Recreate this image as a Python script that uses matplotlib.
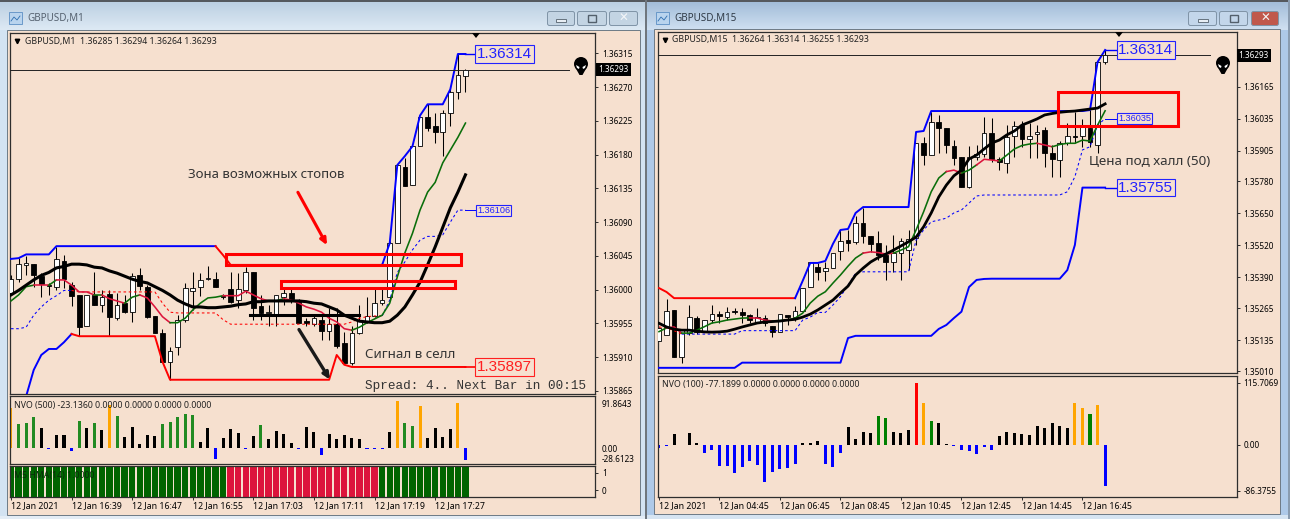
# -*- coding: utf-8 -*-
"""
Two MT4 chart windows of GBPUSD side by side (M1 and M15) with the
band, hull and NVO indicators plus hand drawn marks on top.
Prices are kept in points (1e-5) and scaled when drawn.
"""
import numpy as np
import matplotlib
matplotlib.use('Agg')
import matplotlib.pyplot as plt
from matplotlib.patches import Rectangle, Ellipse, Polygon, FancyBboxPatch

W, H = 1290, 519
TAN = '#f6e0cf'
FRAME = '#2e2e2e'
GREEN = '#0a6e0a'
BARGREEN = '#228b22'
CRIMSON = '#dc143c'
ORANGE = '#ffa500'

# ---- M1 window ----
m1_open = [135996, 136014, 136033, 136034, 136018, 136006, 136004, 136038, 136006, 135993,
           135952, 135993, 135980, 135994, 135962, 135982, 135970, 136019, 136004, 135965,
           135942, 135904, 135924, 135960, 135998, 136004, 136014, 136014, 135992, 136001,
           135986, 135999, 136023, 135978, 135969, 135966, 135990, 135996, 135984, 135958,
           135954, 135960, 135945, 135954, 135929, 135902, 135942, 135957, 135965, 135982,
           135990, 136062, 136163, 136139, 136191, 136230, 136218, 136210, 136235, 136263,
           136285]
m1_high = [136019, 136042, 136045, 136034, 136022, 136009, 136057, 136046, 136010, 135993,
           135993, 136023, 135999, 135999, 135996, 135993, 136022, 136029, 136006, 135965,
           135948, 135924, 135966, 136009, 136023, 136022, 136031, 136023, 135994, 136023,
           136022, 136030, 136023, 135993, 135980, 135993, 136002, 136001, 135988, 135962,
           135965, 135965, 135976, 135976, 135944, 135952, 135980, 135990, 136001, 136001,
           136065, 136166, 136176, 136191, 136230, 136247, 136236, 136239, 136267, 136315,
           136294]
m1_low = [135993, 136010, 136019, 136004, 135990, 135993, 135999, 136002, 135978, 135938,
          135952, 135980, 135970, 135938, 135960, 135969, 135957, 135999, 135962, 135942,
          135904, 135880, 135913, 135957, 135973, 135992, 136013, 136004, 135988, 135982,
          135976, 135996, 135960, 135960, 135952, 135952, 135980, 135982, 135956, 135952,
          135952, 135933, 135933, 135922, 135901, 135900, 135941, 135956, 135964, 135980,
          135986, 136062, 136138, 136139, 136191, 136211, 136195, 136178, 136218, 136254,
          136264]
m1_close = [136014, 136034, 136035, 136019, 136007, 136005, 136041, 136014, 135992, 135950,
            135993, 135980, 135990, 135964, 135980, 135970, 136018, 136005, 135964, 135942,
            135904, 135918, 135960, 136002, 136002, 136013, 136014, 136004, 135990, 135984,
            136001, 136023, 135976, 135969, 135969, 135993, 135996, 135988, 135956, 135956,
            135962, 135945, 135954, 135925, 135902, 135942, 135960, 135965, 135982, 135986,
            136062, 136166, 136138, 136191, 136230, 136216, 136210, 136236, 136264, 136286,
            136293]
m1_upper = [136041, 136042, 136047, 136047, 136047, 136047, 136058, 136058, 136058, 136058,
            136058, 136058, 136058, 136058, 136058, 136058, 136058, 136058, 136058, 136058,
            136058, 136058, 136058, 136058, 136058, 136058, 136058, 136058, 136046, 136033,
            136033, 136033, 136033, 136033, 136033, 136033, 136033, 136033, 136033, 136033,
            136033, 136033, 136033, 136033, 136033, 136033, 136033, 136033, 136033, 136033,
            136062, 136166, 136178, 136191, 136232, 136247, 136247, 136247, 136267, 136314,
            136314]
m1_upper_runs = [(0, 'blue'), (27, 'red'), (49, 'blue')]
m1_lower = [np.nan, np.nan, 135858, 135893, 135913, 135921, 135921, 135930, 135941, 135938,
            135938, 135938, 135938, 135938, 135938, 135938, 135938, 135938, 135938, 135938,
            135904, 135880, 135880, 135880, 135880, 135880, 135880, 135880, 135880, 135880,
            135880, 135880, 135880, 135880, 135880, 135880, 135880, 135880, 135880, 135880,
            135880, 135880, 135880, 135913, 135900, 135897, 135897, 135897, 135897, 135897,
            135897, 135897, 135897, 135897, 135897, 135897, 135897, 135897, 135897, 135897,
            135897]
m1_lower_runs = [(0, 'blue'), (8, 'red')]
m1_hull_slow = [135993, 135999, 136006, 136013, 136019, 136023, 136029, 136031, 136034, 136034,
                136033, 136030, 136029, 136025, 136022, 136018, 136014, 136011, 136009, 136004,
                135999, 135993, 135986, 135981, 135977, 135977, 135976, 135976, 135977, 135978,
                135980, 135981, 135984, 135984, 135985, 135985, 135985, 135985, 135985, 135984,
                135982, 135981, 135977, 135973, 135966, 135962, 135958, 135957, 135956, 135956,
                135958, 135966, 135977, 135993, 136010, 136033, 136057, 136083, 136109, 136130,
                136153]
m1_hull_fast = [135985, 135993, 136004, 136006, 136006, 136006, 136013, 136013, 136006, 135997,
                135997, 135993, 135993, 135988, 135985, 135982, 135990, 135993, 135989, 135977,
                135964, 135956, 135956, 135962, 135973, 135982, 135989, 135990, 135992, 135992,
                135992, 135998, 135993, 135988, 135985, 135985, 135988, 135986, 135982, 135977,
                135974, 135970, 135962, 135957, 135948, 135946, 135950, 135956, 135961, 135966,
                135982, 136017, 136049, 136075, 136106, 136130, 136143, 136169, 136186, 136203,
                136222]
m1_fast_runs = [(0, GREEN), (3, CRIMSON), (5, GREEN), (6, CRIMSON), (11, GREEN), (12, CRIMSON),
                (15, GREEN), (17, CRIMSON), (21, GREEN), (28, CRIMSON), (34, GREEN),
                (36, CRIMSON), (45, GREEN)]
m1_dash = [135948, 135948, 135950, 135966, 135977, 135986, 135992, 135999, 135999, 135997,
           135997, 135997, 135997, 135997, 135997, 135997, 135997, 135997, 135997, 135997,
           135982, 135970, 135969, 135969, 135969, 135969, 135969, 135969, 135960, 135954,
           135954, 135954, 135954, 135954, 135954, 135954, 135954, 135954, 135954, 135954,
           135954, 135954, 135954, 135954, 135954, 135957, 135962, 135964, 135965, 135965,
           135986, 136023, 136037, 136053, 136066, 136071, 136071, 136073, 136090, 136106,
           136106]
m1_dash_runs = [(0, 'blue'), (8, 'red'), (49, 'blue')]
m1_nvo = [78.4, 46, 48, 61, 38.5, -2, 25.7, 25.7, -4.5, 53, 38.5, 48, 35, 83.5, 62, 22.5, 40.5,
          8.3, 25.7, 24.4, 46, 50, 61, 66, 64, 11.6, 38.5, -21, 19, 36.6, 30, -2, 24.4, 44, 17,
          33, 28, 10, -2, 40.5, 32, -13, 27.6, 17, 25.7, 20.5, 17, -2, -1, -0.8, 31.5, 91.2,
          49.5, 43, 81.6, 20.5, 38.5, 21, 37, 88, -23.136]
m1_nvo_colors = ['o', 'g', 'g', 'g', 'k', 'b', 'k', 'k', 'b', 'g', 'k', 'g', 'k', 'o', 'g', 'k', 'k',
                 'k', 'k', 'k', 'g', 'g', 'g', 'g', 'g', 'k', 'k', 'b', 'k', 'k', 'k', 'b', 'k', 'g', 'k',
                 'k', 'k', 'k', 'b', 'k', 'k', 'b', 'k', 'k', 'k', 'k', 'k', 'b', 'b', 'b', 'k', 'o',
                 'g', 'g', 'o', 'k', 'k', 'k', 'k', 'o', 'b']
m1_mtf_state = [1] * 29 + [0] * 20 + [1] * 12
m1_price_ticks = [136315, 136270, 136225, 136180, 136135, 136090, 136045, 136000, 135955, 135910, 135865]
m1_time_labels = ['12 Jan 2021', '12 Jan 16:39', '12 Jan 16:47', '12 Jan 16:55',
                  '12 Jan 17:03', '12 Jan 17:11', '12 Jan 17:19', '12 Jan 17:27']

# ---- M15 window ----
m15_open = [135132, 135156, 135258, 135067, 135164, 135225, 135172, 135217, 135241, 135229,
            135254, 135250, 135237, 135209, 135225, 135193, 135168, 135237, 135229, 135254,
            135351, 135432, 135416, 135428, 135497, 135542, 135534, 135611, 135558, 135530,
            135481, 135453, 135489, 135501, 135550, 135936, 135887, 136021, 135997, 135924,
            135879, 135757, 135879, 135891, 135977, 135871, 135855, 135965, 136009, 135952,
            135973, 135989, 135895, 135867, 135936, 135965, 135965, 135997, 135928, 136264]
m15_high = [135190, 135302, 135258, 135176, 135278, 135233, 135217, 135278, 135254, 135270,
            135266, 135266, 135241, 135266, 135237, 135193, 135241, 135237, 135274, 135347,
            135453, 135449, 135453, 135489, 135583, 135583, 135640, 135672, 135558, 135579,
            135522, 135562, 135550, 135583, 135936, 135960, 136062, 136050, 135997, 135948,
            135879, 135924, 135928, 136042, 136038, 135879, 136009, 136025, 136025, 136017,
            136009, 136001, 135928, 135944, 136017, 136062, 136034, 136070, 136265, 136314]
m15_low = [135132, 135156, 135067, 135042, 135156, 135160, 135172, 135205, 135205, 135217,
           135241, 135205, 135205, 135205, 135193, 135148, 135168, 135197, 135213, 135254,
           135351, 135380, 135376, 135428, 135461, 135497, 135526, 135530, 135493, 135461,
           135380, 135412, 135380, 135420, 135522, 135847, 135887, 135895, 135895, 135847,
           135757, 135753, 135867, 135879, 135859, 135826, 135814, 135879, 135920, 135875,
           135875, 135839, 135798, 135798, 135928, 135936, 135920, 135920, 135895, 136255]
m15_close = [135185, 135254, 135067, 135176, 135229, 135168, 135217, 135241, 135233, 135250,
             135250, 135237, 135217, 135229, 135205, 135168, 135241, 135229, 135254, 135347,
             135453, 135412, 135428, 135489, 135538, 135530, 135611, 135558, 135526, 135481,
             135453, 135489, 135538, 135546, 135936, 135887, 136021, 135997, 135928, 135875,
             135757, 135879, 135891, 135977, 135871, 135859, 135960, 136005, 135952, 135965,
             135981, 135895, 135871, 135936, 135965, 135960, 136001, 135940, 136265, 136293]
m15_upper = [135347, 135331, 135306, 135306, 135306, 135306, 135306, 135306, 135306, 135306,
             135306, 135306, 135306, 135306, 135306, 135306, 135306, 135306, 135306, 135376,
             135449, 135449, 135457, 135526, 135583, 135587, 135652, 135676, 135676, 135676,
             135676, 135676, 135676, 135676, 135981, 135985, 136066, 136066, 136066, 136066,
             136066, 136066, 136066, 136066, 136066, 136066, 136066, 136066, 136066, 136066,
             136066, 136066, 136066, 136066, 136066, 136066, 136066, 136070, 136265, 136314]
m15_upper_runs = [(0, 'red'), (18, 'blue')]
m15_lower = [135023, 135023, 135023, 135023, 135023, 135023, 135023, 135023, 135023, 135023,
             135023, 135044, 135044, 135044, 135044, 135044, 135044, 135044, 135044, 135044,
             135044, 135044, 135044, 135044, 135044, 135144, 135153, 135153, 135153, 135153,
             135153, 135153, 135153, 135153, 135153, 135153, 135153, 135181, 135197, 135225,
             135251, 135351, 135380, 135384, 135385, 135385, 135385, 135385, 135385, 135385,
             135385, 135385, 135385, 135385, 135420, 135522, 135755, 135755, 135755, 135755]
m15_hull_slow = [135204, 135189, 135180, 135176, 135176, 135172, 135169, 135168, 135169, 135172,
                 135180, 135189, 135197, 135205, 135209, 135211, 135213, 135217, 135220, 135229,
                 135241, 135258, 135278, 135298, 135327, 135355, 135400, 135428, 135453, 135471,
                 135485, 135501, 135518, 135535, 135554, 135596, 135652, 135717, 135765, 135803,
                 135826, 135871, 135887, 135912, 135936, 135948, 135969, 135985, 136009, 136021,
                 136034, 136050, 136056, 136061, 136064, 136066, 136070, 136074, 136078, 136095]
m15_hull_fast = [135170, 135185, 135189, 135164, 135164, 135176, 135190, 135205, 135210, 135217,
                 135221, 135225, 135226, 135225, 135217, 135213, 135215, 135217, 135225, 135245,
                 135286, 135314, 135332, 135367, 135400, 135436, 135469, 135489, 135494, 135491,
                 135485, 135489, 135501, 135515, 135583, 135657, 135738, 135794, 135820, 135826,
                 135814, 135826, 135847, 135870, 135867, 135863, 135887, 135912, 135926, 135932,
                 135935, 135928, 135921, 135930, 135935, 135935, 135948, 135944, 136009, 136067]
m15_fast_runs = [(0, GREEN), (1, CRIMSON), (3, GREEN), (12, CRIMSON), (15, GREEN), (27, CRIMSON),
                 (31, GREEN), (38, CRIMSON), (40, GREEN), (42, CRIMSON), (45, GREEN),
                 (50, CRIMSON), (52, GREEN)]
m15_dash = [135189, 135185, 135174, 135160, 135160, 135160, 135160, 135160, 135160, 135160,
            135160, 135174, 135174, 135174, 135174, 135174, 135174, 135174, 135174, 135217,
            135229, 135248, 135248, 135278, 135312, 135359, 135407, 135413, 135413, 135413,
            135413, 135413, 135413, 135413, 135542, 135583, 135616, 135623, 135631, 135652,
            135664, 135692, 135721, 135725, 135725, 135725, 135725, 135725, 135725, 135725,
            135725, 135725, 135725, 135725, 135738, 135799, 135908, 135921, 136009, 136035]
m15_dash_runs = [(0, 'red'), (3, 'blue')]
m15_nvo = [-6, -3, 19, -1, 21, 3, -16, -11, -41, -41, -53, -42, -30, -39, -70, -51, -46, -44,
           -36, 3, 3, 6, -37, -42, -16, 33, 11, 24, 21, 54, 50.5, 22.5, 21, 28, 115.7, 77, 44,
           40.5, 1, -3, -11, -12.5, -17.5, -4, -11, 15.6, 24, 21, 19, 17.5, 35, 31, 40.5, 35,
           30, 77, 68.6, 58, 74, -77.19]
m15_nvo_colors = ['b', 'b', 'k', 'b', 'k', 'k', 'b', 'b', 'b', 'b', 'b', 'b', 'b', 'b', 'b', 'b', 'b', 'b',
                  'b', 'k', 'k', 'k', 'b', 'b', 'b', 'k', 'k', 'k', 'k', 'G', 'G', 'k', 'k', 'k', 'r', 'o', 'G',
                  'k', 'k', 'b', 'b', 'b', 'b', 'b', 'b', 'k', 'k', 'k', 'k', 'k', 'k', 'k', 'k', 'k',
                  'k', 'o', 'o', 'G', 'o', 'b']
m15_price_ticks = [136165, 136035, 135905, 135780, 135650, 135520, 135390, 135265, 135135, 135010]
m15_time_labels = ['12 Jan 2021', '12 Jan 04:45', '12 Jan 06:45', '12 Jan 08:45',
                   '12 Jan 10:45', '12 Jan 12:45', '12 Jan 14:45', '12 Jan 16:45']

NVO_COLORS = {'k': 'black', 'b': 'blue', 'g': BARGREEN, 'G': 'green', 'o': ORANGE, 'r': 'red'}

plt.rcParams['font.family'] = ['Noto Sans', 'DejaVu Sans']
plt.rcParams['font.size'] = 6.3
plt.rcParams['text.color'] = '#222222'

fig = plt.figure(figsize=(W / 100, H / 100), dpi=100)


def pixel_axes(x0, y0, x1, y1):
    """Axes placed by pixel box, y counted from the top of the figure."""
    ax = fig.add_axes([x0 / W, 1 - y1 / H, (x1 - x0) / W, (y1 - y0) / H])
    ax.set_facecolor(TAN)
    for s in ax.spines.values():
        s.set_color(FRAME)
        s.set_linewidth(0.9)
    ax.yaxis.tick_right()
    ax.tick_params(axis='y', length=2.5, width=0.7, pad=2.5, color=FRAME, labelsize=5.9)
    ax.set_xticks([])
    return ax


def draw_candles(ax, o, h, l, c):
    o, h, l, c = [np.array(v) / 1e5 for v in (o, h, l, c)]
    x = np.arange(len(o))
    ax.vlines(x, l, h, color='black', lw=0.75, zorder=2)
    for xi, a, b in zip(x, o, c):
        face = 'white' if b >= a else 'black'
        ax.add_patch(Rectangle((xi - 0.31, min(a, b)), 0.62, max(abs(b - a), 1e-5), fc=face,
                               ec='black', lw=0.6, zorder=3))


def draw_runs(ax, values, runs, **kw):
    """Line through the bars, coloured by (first segment, colour) runs."""
    y = np.array(values, dtype=float) / 1e5
    for n, (start, col) in enumerate(runs):
        stop = runs[n + 1][0] if n + 1 < len(runs) else len(y) - 1
        ax.plot(np.arange(start, stop + 1), y[start:stop + 1], color=col,
                solid_joinstyle='round', **kw)


def level_label(ax, bar, price, text, color, size):
    """Boxed price text, the box edge in the level's colour."""
    ax.text(bar, price / 1e5, text, color=color, fontsize=size, va='center', ha='left',
            family=['Liberation Sans'], zorder=8,
            bbox=dict(boxstyle='square,pad=0.12', fc=TAN, ec=color, lw=0.8))


def time_axis(ax, labels):
    ax.set_xticks(np.arange(len(labels)) * 8)
    ax.set_xticklabels(labels, ha='left')
    ax.tick_params(axis='x', length=2.5, width=0.7, pad=0.6, color=FRAME, labelsize=6.3)


def draw_window(chrome, x0, x1, side, title_map, tan_x0, tan_x1, tan_top, tan_bottom):
    chrome.add_patch(Rectangle((x0, 0), x1 - x0, H, fc=side, ec='none', zorder=0))
    grad = np.linspace(0, 1, 30).reshape(-1, 1)
    chrome.imshow(grad, extent=(x0, x1, 30, 2), aspect='auto', cmap=title_map, zorder=1)
    chrome.add_patch(Rectangle((tan_x0, tan_top), tan_x1 - tan_x0, tan_bottom - tan_top,
                               fc=TAN, ec='#6d7a86', lw=0.7, zorder=2))


# window frames and title bars, drawn in pixel coordinates
chrome = fig.add_axes([0, 0, 1, 1])
chrome.set_xlim(0, W)
chrome.set_ylim(H, 0)
chrome.axis('off')
inactive = matplotlib.colors.LinearSegmentedColormap.from_list('t1', ['#bcd0e2', '#dde9f4'])
active = matplotlib.colors.LinearSegmentedColormap.from_list('t2', ['#a3bdd9', '#cfe0f1'])
draw_window(chrome, 0, 645, '#d3e3f2', inactive, 6.5, 640, 30, 515)
draw_window(chrome, 647, 1288, '#aec9e8', active, 653.5, 1280, 29, 514)
chrome.set_xlim(0, W)
chrome.set_ylim(H, 0)
chrome.add_patch(Rectangle((0, 0), W, 2, fc='#55595e', ec='none', zorder=1))
chrome.add_patch(Rectangle((645, 0), 2, H, fc='#6f767d', ec='none', zorder=1))
chrome.add_patch(Rectangle((1288, 0), 2, H, fc='#8a9cb0', ec='none', zorder=1))
chrome.add_patch(Rectangle((647, 515), 641, 4, fc='#d6e4f2', ec='none', zorder=1))
chrome.add_patch(Rectangle((0, 516), 645, 3, fc='#e4edf6', ec='none', zorder=1))

for title, tx, tc in (('GBPUSD,M1', 27, '#566270'), ('GBPUSD,M15', 674, '#2f3a46')):
    chrome.text(tx, 18.5, title, fontsize=7.1, color=tc, va='center', zorder=5)
    ix = tx - 18
    chrome.add_patch(Rectangle((ix, 12), 13, 12, fc='#b9d4ee', ec='#5c8fc4', lw=0.6, zorder=5))
    chrome.plot([ix + 2, ix + 5, ix + 8, ix + 11], [21, 17, 20, 16], color='#2f6fb0', lw=0.6, zorder=6)

btn_boxes = [(547, 575), (577, 607), (609, 638), (1188, 1217), (1219, 1248), (1251, 1279)]
btn_faces = ['#c3d4e3', '#c3d4e3', '#c3d4e3', '#c3d6ea', '#c3d6ea', '#c0584c']
for (bx0, bx1), fc in zip(btn_boxes, btn_faces):
    chrome.add_patch(FancyBboxPatch((bx0 + 1, 12), bx1 - bx0 - 2, 13, boxstyle='round,pad=0.5,rounding_size=2',
                                    fc=fc, ec='#7f93a6', lw=0.7, zorder=5))
    mid = (bx0 + bx1) / 2
    if bx0 in (547, 1188):
        chrome.add_patch(Rectangle((mid - 5, 18.5), 10, 3, fc='#e8eef4', ec='#53606c', lw=0.6, zorder=6))
    elif bx0 in (577, 1219):
        chrome.add_patch(Rectangle((mid - 4, 15), 8, 7, fc='none', ec='#53606c', lw=1.0, zorder=6))
    else:
        chrome.text(mid, 18.3, '✕', fontsize=8.5, ha='center', va='center', color='#f4f6f8',
                    family='DejaVu Sans', fontweight='bold', zorder=6)

# ---- M1 main chart ----
ax1 = pixel_axes(10, 33, 595, 394)
ax1.set_xlim(-0.13, 77.1)
ax1.set_ylim(1.35861, 1.36342)
draw_candles(ax1, m1_open, m1_high, m1_low, m1_close)
draw_runs(ax1, m1_dash, m1_dash_runs, lw=0.75, ls=(0, (2.5, 2.5)), zorder=4)
draw_runs(ax1, m1_upper, m1_upper_runs, lw=1.4, zorder=4)
draw_runs(ax1, m1_lower, m1_lower_runs, lw=1.4, zorder=4)
draw_runs(ax1, m1_hull_fast, m1_fast_runs, lw=1.15, zorder=5)
draw_runs(ax1, m1_hull_slow, [(0, 'black')], lw=2.2, zorder=5)
ax1.set_yticks(np.array(m1_price_ticks) / 1e5)
ax1.set_yticklabels(['%.5f' % (v / 1e5) for v in m1_price_ticks])
ax1.plot([-0.13, 73.7], [1.36293, 1.36293], color='#222222', lw=0.7, zorder=4)
ax1.text(1.0055, 1.36293, '1.36293', transform=ax1.get_yaxis_transform(), color='white', va='center',
         fontsize=5.9, bbox=dict(boxstyle='square,pad=0.25', fc='black', ec='none'), clip_on=False, zorder=9)
ax1.text(1.9, 1.36331, 'GBPUSD,M1  1.36285 1.36294 1.36264 1.36293', va='center', zorder=7)
ax1.plot(0.75, 1.36331, marker='v', ms=3.2, color='black', clip_on=False)

# hand drawn zones, arrows and notes on the M1 chart
ax1.add_patch(Rectangle((28.44, 1.36033), 30.95, 0.000144, fc='none', ec='#ff0000', lw=2.2, zorder=6))
ax1.add_patch(Rectangle((35.7, 1.36002), 22.9, 0.000095, fc='none', ec='#ff0000', lw=2.2, zorder=6))
ax1.annotate('', xy=(41.9, 1.36056), xytext=(37.7, 1.36133), zorder=7,
             arrowprops=dict(arrowstyle='-|>,head_length=0.6,head_width=0.28', color='#ff0000', lw=2.2))
ax1.annotate('', xy=(42.3, 1.35877), xytext=(37.83, 1.3595), zorder=7,
             arrowprops=dict(arrowstyle='-|>,head_length=0.6,head_width=0.28', color='#1a1a1a', lw=2.4))
ax1.plot([31.6, 45.9], [1.35966, 1.35966], color='black', lw=2.2, zorder=5)
ax1.text(23.4, 1.36154, 'Зона возможных стопов', fontsize=9.5, va='center', color='#333333', zorder=7)
ax1.text(46.8, 1.35914, 'Сигнал в селл', fontsize=9.6, va='center', color='#333333', zorder=7)
ax1.text(46.8, 1.35872, 'Spread: 4.. Next Bar in 00:15', fontsize=9.1, va='center', color='#333333',
         family=['Liberation Mono'], zorder=7)
ax1.plot([60, 61.5], [1.36314, 1.36314], color='blue', lw=1, zorder=4)
ax1.plot([60, 61.5], [1.36106, 1.36106], color='blue', lw=0.7, zorder=4)
ax1.plot([60, 61.5], [1.35897, 1.35897], color='red', lw=1.2, zorder=4)
level_label(ax1, 61.55, 136314, '1.36314', '#2222ff', 11)
level_label(ax1, 61.55, 136106, '1.36106', '#2222ff', 6.6)
level_label(ax1, 61.55, 135897, '1.35897', '#ff2020', 11)

# ---- M1 NVO ----
ax2 = pixel_axes(10, 396, 595, 464)
ax2.set_xlim(-0.13, 77.1)
ax2.set_ylim(-30.25, 100.8)
ax2.bar(np.arange(len(m1_nvo)), m1_nvo, width=0.4, color=[NVO_COLORS[c] for c in m1_nvo_colors])
ax2.set_yticks([87.3, 0, -18.7])
ax2.set_yticklabels(['91.8643', '0.00', '-28.6123'])
ax2.tick_params(axis='y', length=0, pad=4.5)
ax2.text(0.4, 83.4, 'NVO (500) -23.1360 0.0000 0.0000 0.0000 0.0000', va='center', zorder=5)

# ---- M1 multi timeframe state ----
ax3 = pixel_axes(10, 466, 595, 497)
ax3.set_xlim(-0.13, 77.1)
ax3.set_ylim(0, 1.03)
ax3.bar(np.arange(len(m1_mtf_state)), np.ones(len(m1_mtf_state)), width=0.84, align='center',
        color=['#006400' if s else CRIMSON for s in m1_mtf_state])
ax3.set_yticks([0.8, 0.22])
ax3.set_yticklabels(['1', '0'])
ax3.text(0.4, 0.73, 'M5 HMA(14) 1.0000', va='center', color='#0b2a0b', zorder=5)
time_axis(ax3, m1_time_labels)

# ---- M15 main chart ----
ax4 = pixel_axes(657.7, 32, 1236.7, 373)
ax4.set_xlim(-0.17, 76.4)
ax4.set_ylim(1.35002, 1.36387)
draw_candles(ax4, m15_open, m15_high, m15_low, m15_close)
draw_runs(ax4, m15_dash, m15_dash_runs, lw=0.75, ls=(0, (2.5, 2.5)), zorder=4)
draw_runs(ax4, m15_upper, m15_upper_runs, lw=1.4, zorder=4)
draw_runs(ax4, m15_lower, [(0, 'blue')], lw=1.4, zorder=4)
draw_runs(ax4, m15_hull_fast, m15_fast_runs, lw=1.15, zorder=5)
draw_runs(ax4, m15_hull_slow, [(0, 'black')], lw=2.0, zorder=5)
ax4.set_yticks(np.array(m15_price_ticks) / 1e5)
ax4.set_yticklabels(['%.5f' % (v / 1e5) for v in m15_price_ticks])
ax4.plot([-0.17, 72.9], [1.36293, 1.36293], color='#222222', lw=0.7, zorder=4)
ax4.text(1.0035, 1.36293, '1.36293', transform=ax4.get_yaxis_transform(), color='white', va='center',
         fontsize=5.9, bbox=dict(boxstyle='square,pad=0.25', fc='black', ec='none'), clip_on=False, zorder=9)
ax4.text(1.7, 1.36355, 'GBPUSD,M15  1.36264 1.36314 1.36255 1.36293', va='center', zorder=7)
ax4.plot(0.75, 1.36355, marker='v', ms=3.2, color='black', clip_on=False)

ax4.add_patch(Rectangle((52.8, 1.36005), 15.9, 0.00138, fc='none', ec='#ff0000', lw=2.2, zorder=6))
ax4.text(56.9, 1.35859, 'Цена под халл (50)', fontsize=9.7, va='center', color='#333333', zorder=7)
ax4.plot([59, 60.7], [1.36314, 1.36314], color='blue', lw=1, zorder=4)
ax4.plot([59, 60.7], [1.36035, 1.36035], color='blue', lw=0.7, zorder=4)
ax4.plot([59, 60.7], [1.35755, 1.35755], color='blue', lw=1, zorder=4)
level_label(ax4, 60.75, 136314, '1.36314', '#2222ff', 11)
level_label(ax4, 60.75, 136035, '1.36035', '#2222ff', 6.6)
level_label(ax4, 60.75, 135755, '1.35755', '#2222ff', 11)

# ---- M15 NVO ----
ax5 = pixel_axes(657.7, 376, 1236.7, 497)
ax5.set_xlim(-0.17, 76.4)
ax5.set_ylim(-98.2, 128.2)
ax5.bar(np.arange(len(m15_nvo)), m15_nvo, width=0.4, color=[NVO_COLORS[c] for c in m15_nvo_colors])
ax5.set_yticks([115.7069, 0, -86.3755])
ax5.set_yticklabels(['115.7069', '0.00', '-86.3755'])
ax5.text(0.4, 113, 'NVO (100) -77.1899 0.0000 0.0000 0.0000 0.0000', va='center', zorder=5)
time_axis(ax5, m15_time_labels)

# top layer: alien logo and the shift markers
top = fig.add_axes([0, 0, 1, 1], facecolor='none')
top.set_xlim(0, W)
top.set_ylim(H, 0)
top.axis('off')
for cx, cy in ((581, 66), (1223, 65)):
    top.add_patch(Ellipse((cx, cy - 2), 14, 14, fc='black', ec='none'))
    top.add_patch(Polygon([(cx - 6, cy + 1), (cx + 6, cy + 1), (cx + 1.5, cy + 9), (cx - 1.5, cy + 9)], fc='black', ec='none'))
    top.add_patch(Polygon([(cx - 5, cy - 1), (cx - 1.5, cy + 1), (cx - 2, cy + 3), (cx - 4, cy + 2)], fc='white', ec='none'))
    top.add_patch(Polygon([(cx + 5, cy - 1), (cx + 1.5, cy + 1), (cx + 2, cy + 3), (cx + 4, cy + 2)], fc='white', ec='none'))
for mx, my in ((476, 33), (1119, 32)):
    top.add_patch(Polygon([(mx - 4, my), (mx + 4, my), (mx, my + 5)], fc='black', ec='none'))

fig.savefig('out.png', dpi=100)
